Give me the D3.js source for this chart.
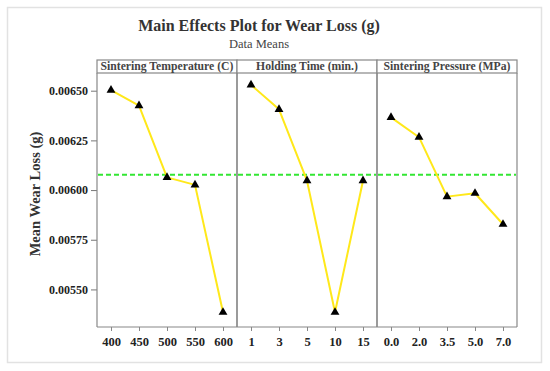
<!DOCTYPE html>
<html>
<head>
<meta charset="utf-8">
<script src="https://cdn.jsdelivr.net/npm/d3@7"></script>
<style>
  body { margin: 0; background: #fff; }
  svg text { font-family: "Liberation Serif", "Times New Roman", Tinos, "DejaVu Serif", serif !important; }
</style>
</head>
<body>
<div id="chart"></div>
<script>
// Data
const panelTitles = ["Sintering Temperature (C)", "Holding Time (min.)", "Sintering Pressure (MPa)"];
const tempLevels = ["400", "450", "500", "550", "600"];
const tempMeans = [0.006503, 0.006425, 0.006064, 0.006026, 0.005385];
const timeLevels = ["1", "3", "5", "10", "15"];
const timeMeans = [0.006529, 0.006406, 0.006047, 0.005385, 0.006047];
const pressLevels = ["0.0", "2.0", "3.5", "5.0", "7.0"];
const pressMeans = [0.006366, 0.006266, 0.005967, 0.005984, 0.005828];
const grandMean = 0.006077;
const yTicks = [0.0055, 0.00575, 0.006, 0.00625, 0.0065];

const panels = [
  { title: panelTitles[0], levels: tempLevels, means: tempMeans },
  { title: panelTitles[1], levels: timeLevels, means: timeMeans },
  { title: panelTitles[2], levels: pressLevels, means: pressMeans }
];

const width = 550, height = 371;
const plot = { left: 97, top: 73, bottom: 327, panelWidth: 140, stripTop: 60 };

const svg = d3.select("#chart").append("svg")
  .attr("width", width)
  .attr("height", height);

// outer frame
svg.append("rect")
  .attr("x", 7.5).attr("y", 7.5)
  .attr("width", 534).attr("height", 355)
  .attr("fill", "#fff")
  .attr("stroke", "#e2e2e2")
  .attr("stroke-width", 1.5);

// titles
svg.append("text")
  .attr("x", 259).attr("y", 31)
  .attr("text-anchor", "middle")
  .attr("font-size", 16)
  .attr("font-weight", "bold")
  .attr("fill", "#333")
  .text("Main Effects Plot for Wear Loss (g)");

svg.append("text")
  .attr("x", 259).attr("y", 48)
  .attr("text-anchor", "middle")
  .attr("font-size", 12.5)
  .attr("fill", "#444")
  .text("Data Means");

const y = d3.scaleLinear()
  .domain([0.005311, 0.006589])
  .range([plot.bottom, plot.top]);

// y axis
const yAxis = svg.append("g")
  .attr("transform", `translate(${plot.left},0)`)
  .call(d3.axisLeft(y).tickValues(yTicks).tickFormat(d3.format(".5f")).tickSize(6).tickPadding(3));
yAxis.select(".domain").remove();
yAxis.selectAll(".tick line").attr("stroke", "#777");
yAxis.selectAll(".tick text")
  .attr("font-size", 12)
  .attr("font-weight", "bold")
  .attr("fill", "#222");

svg.append("text")
  .attr("transform", `translate(40,194) rotate(-90)`)
  .attr("text-anchor", "middle")
  .attr("font-size", 14.5)
  .attr("font-weight", "bold")
  .attr("fill", "#333")
  .text("Mean Wear Loss (g)");

panels.forEach((p, i) => {
  const x0 = plot.left + i * plot.panelWidth;
  const x = d3.scalePoint()
    .domain(p.levels)
    .range([x0 + 14, x0 + plot.panelWidth - 14]);

  const g = svg.append("g");

  // strip header
  g.append("rect")
    .attr("x", x0).attr("y", plot.stripTop)
    .attr("width", plot.panelWidth).attr("height", plot.top - plot.stripTop)
    .attr("fill", "#fff")
    .attr("stroke", "#888")
    .attr("stroke-width", 1.2);

  g.append("text")
    .attr("x", x0 + plot.panelWidth / 2)
    .attr("y", plot.top - 3)
    .attr("text-anchor", "middle")
    .attr("font-size", 11.7)
    .attr("font-weight", "bold")
    .attr("fill", "#444")
    .text(p.title);

  // panel frame (left/right borders)
  g.append("line")
    .attr("x1", x0).attr("x2", x0)
    .attr("y1", plot.top).attr("y2", plot.bottom)
    .attr("stroke", "#888").attr("stroke-width", 1.2);
  g.append("line")
    .attr("x1", x0 + plot.panelWidth).attr("x2", x0 + plot.panelWidth)
    .attr("y1", plot.top).attr("y2", plot.bottom)
    .attr("stroke", "#888").attr("stroke-width", 1.2);

  // x axis
  const xAxis = g.append("g")
    .attr("transform", `translate(0,${plot.bottom})`)
    .call(d3.axisBottom(x).tickSize(4).tickPadding(6).tickSizeOuter(0));
  xAxis.select(".domain")
    .attr("d", `M${x0},0H${x0 + plot.panelWidth}`)
    .attr("stroke", "#888").attr("stroke-width", 1.2);
  xAxis.selectAll(".tick line").attr("stroke", "#888");
  xAxis.selectAll(".tick text")
    .attr("font-size", 12.5)
    .attr("font-weight", "bold")
    .attr("fill", "#222");

  // grand mean reference line
  g.append("line")
    .attr("x1", x0 + 1).attr("x2", x0 + plot.panelWidth - 1)
    .attr("y1", y(grandMean)).attr("y2", y(grandMean))
    .attr("stroke", "#33e633")
    .attr("stroke-width", 2)
    .attr("stroke-dasharray", "5,3");

  const pts = p.levels.map((lv, j) => [x(lv), y(p.means[j])]);

  g.append("path")
    .datum(pts)
    .attr("fill", "none")
    .attr("stroke", "#ffe81a")
    .attr("stroke-width", 2)
    .attr("stroke-linejoin", "round")
    .attr("d", d3.line());

  g.selectAll("path.marker")
    .data(pts)
    .join("path")
    .attr("class", "marker")
    .attr("transform", d => `translate(${d[0]},${d[1]})`)
    .attr("d", d3.symbol(d3.symbolTriangle, 34))
    .attr("fill", "#000");
});
</script>
</body>
</html>
